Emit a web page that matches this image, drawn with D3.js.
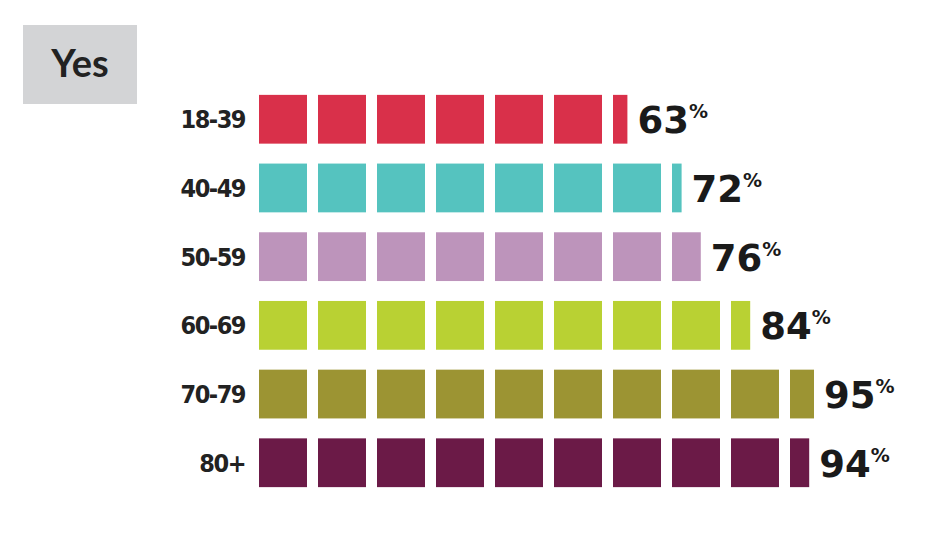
<!DOCTYPE html><html><head><meta charset="utf-8"><script src="https://cdn.jsdelivr.net/npm/d3@7"></script>
<style>body{margin:0;background:#fff}</style></head><body><svg id="c" width="932" height="535"></svg>
<script>
const categories=["18-39","40-49","50-59","60-69","70-79","80+"];
const values=[63,72,76,84,95,94];
const colors=["#d9304a","#55c3bf","#bd94bb","#b9d133","#9c9433","#6b1a47"];
const title="Yes";
const svg=d3.select("#c");
svg.append("rect").attr("x",23).attr("y",25).attr("width",114).attr("height",79).attr("fill","#d3d4d6");
svg.append("text").attr("x",80).attr("y",77).attr("text-anchor","middle").attr("font-family","Lato").attr("font-weight","bold").attr("font-size",38).attr("fill","#222").text(title);
const y=d3.scaleBand().domain(categories).range([88,494]).paddingInner(0.29).paddingOuter(0.1);
const x=d3.scaleLinear().domain([0,10]).range([259,849]); // one unit = 10%
const segW=48;
categories.forEach((c,i)=>{
  const v=values[i], full=Math.floor(v/10), frac=v/10-full;
  const segs=d3.range(full).map(k=>({x:x(k),w:segW}));
  if(frac>0) segs.push({x:x(full),w:frac*segW});
  const g=svg.append("g");
  g.selectAll("rect").data(segs).join("rect").attr("x",d=>d.x).attr("y",y(c)).attr("width",d=>d.w).attr("height",y.bandwidth()).attr("fill",colors[i]);
  const end=segs[segs.length-1].x+segs[segs.length-1].w;
  const cy=y(c)+y.bandwidth()/2;
  svg.append("text").attr("x",245).attr("y",cy+9).attr("text-anchor","end").attr("font-family","DejaVu Sans Condensed, DejaVu Sans").attr("font-weight","bold").attr("font-size",25).attr("letter-spacing",-1.5).attr("fill","#222").text(c);
  const t=svg.append("text").attr("x",end+10).attr("y",cy+14).attr("font-family","DejaVu Sans").attr("font-weight","bold").attr("font-size",37).attr("fill","#1a1a1a");
  t.append("tspan").text(v);
  t.append("tspan").attr("font-size",19).attr("dy",-15).text("%");
});
</script></body></html>
